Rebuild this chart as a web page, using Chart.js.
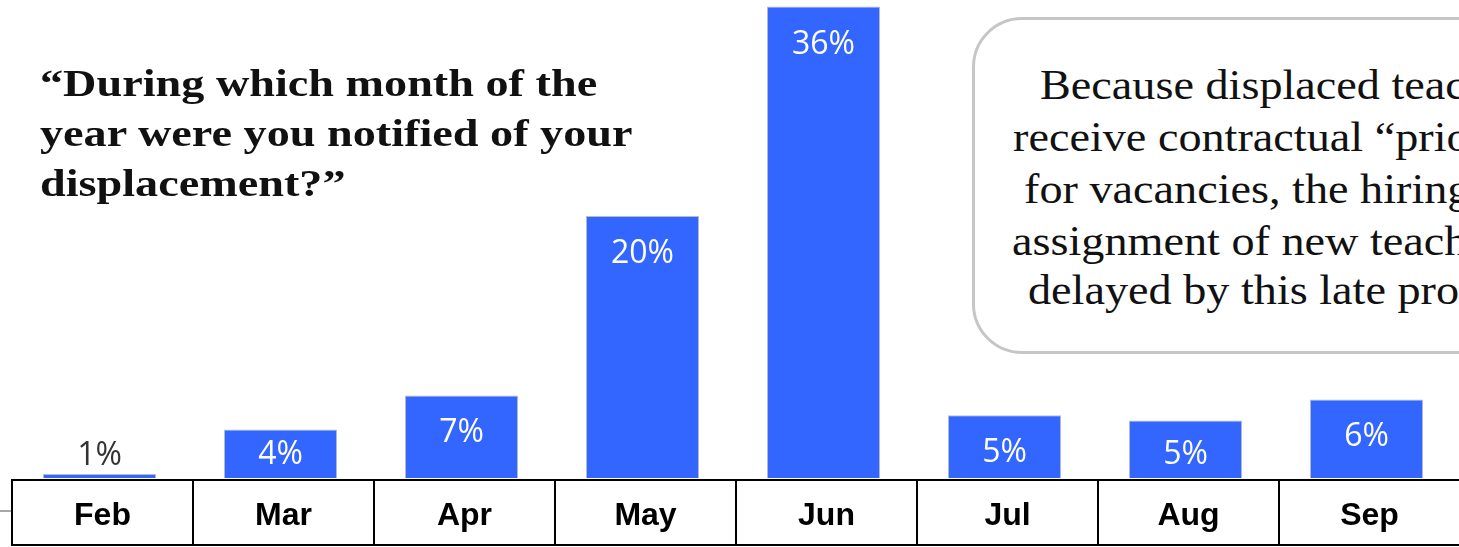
<!DOCTYPE html>
<html>
<head>
<meta charset="utf-8">
<script src="https://cdn.jsdelivr.net/npm/chart.js@4.4.1/dist/chart.umd.min.js"></script>
<style>
    body { margin: 0; width: 1459px; height: 547px; overflow: hidden; position: relative; background: #fff; }
    #myChart { position: absolute; left: 0; top: 0; }
    .title { position: absolute; left: 40px; top: 59px; font: bold 37px "Liberation Serif", serif; line-height: 50px; color: #111; white-space: nowrap; transform-origin: 0 0; }
    .callout { position: absolute; left: 972px; top: 17px; width: 620px; height: 331px; border: 3px solid #c6c6c6; border-radius: 50px; background: #fff; }
    .line { position: absolute; font: 42px "Liberation Serif", serif; line-height: 52px; color: #111; white-space: nowrap; transform-origin: 0 0; transform: scaleX(1.1); }
</style>
</head>
<body>
<canvas id="myChart" width="1459" height="547"></canvas>
<div class="title" id="title">“During which month of the<br>year were you notified of your<br>displacement?”</div>
<div class="callout"></div>
<div class="line" style="left:1040px; top:59px">Because displaced teachers</div>
<div class="line" style="left:1013px; top:111px">receive contractual “priority”</div>
<div class="line" style="left:1024px; top:163px">for vacancies, the hiring and</div>
<div class="line" style="left:1012px; top:215px">assignment of new teachers is</div>
<div class="line" style="left:1028px; top:264px">delayed by this late process.</div>
<script>
'use strict';
(function () {

    var months = ['Feb', 'Mar', 'Apr', 'May', 'Jun', 'Jul', 'Aug', 'Sep'];
    // bar heights as drawn in the picture
    var shares = [0.3, 3.7, 6.3, 20, 36, 4.8, 4.4, 6.0];
    // labels as printed on the bars
    var shareLabels = ['1%', '4%', '7%', '20%', '36%', '5%', '5%', '6%'];

    // stretch the bold title to the width of the original serif
    var title = document.getElementById('title');
    title.style.transform = 'scaleX(' + (592 / title.scrollWidth) + ')';

    // value labels, white inside the bar, dark above tiny ones
    var barLabels = {
        id: 'barLabels',
        afterDatasetsDraw: function (chart) {
            var ctx = chart.ctx;
            var meta = chart.getDatasetMeta(0);
            var base = chart.scales.y.getPixelForValue(0);
            ctx.save();
            ctx.font = '32px "Open Sans", sans-serif';
            ctx.textAlign = 'center';
            ctx.textBaseline = 'alphabetic';
            meta.data.forEach(function (bar, i) {
                var y;
                if (base - bar.y < 20) {
                    ctx.fillStyle = '#333';
                    y = bar.y - 9;
                } else {
                    ctx.fillStyle = '#fff';
                    y = Math.min(bar.y + 47, base - 14);
                }
                ctx.fillText(shareLabels[i], bar.x, y);
            });
            ctx.restore();
        }
    };

    // category table under the bars
    var monthTable = {
        id: 'monthTable',
        afterDraw: function (chart) {
            var ctx = chart.ctx;
            var x = chart.scales.x;
            var top = chart.chartArea.bottom + 2;
            var bottom = chart.height - 2;
            var half = (x.getPixelForValue(1) - x.getPixelForValue(0)) / 2;
            var left0 = x.getPixelForValue(0) - half + 3;
            ctx.save();
            ctx.strokeStyle = '#a8a8a8';
            ctx.lineWidth = 2;
            ctx.beginPath();
            ctx.moveTo(0, 511);
            ctx.lineTo(left0, 511);
            ctx.stroke();

            ctx.strokeStyle = '#000';
            ctx.lineWidth = 2;
            ctx.beginPath();
            ctx.moveTo(left0 - 1, top);
            ctx.lineTo(chart.width, top);
            ctx.moveTo(left0 - 1, bottom);
            ctx.lineTo(chart.width, bottom);
            months.forEach(function (m, i) {
                var left = x.getPixelForValue(i) - half + 3;
                ctx.moveTo(left, top);
                ctx.lineTo(left, bottom);
            });
            ctx.stroke();

            ctx.fillStyle = '#000';
            ctx.font = 'bold 32px "Liberation Sans", Arial, sans-serif';
            ctx.textAlign = 'center';
            ctx.textBaseline = 'alphabetic';
            months.forEach(function (m, i) {
                ctx.fillText(m, x.getPixelForValue(i) + 3, bottom - 20);
            });
            ctx.restore();
        }
    };

    var ctx = document.getElementById('myChart');
    var myChart = new Chart(ctx, {
        type: 'bar',
        data: {
            labels: months,
            datasets: [{
                    data: shares,
                    backgroundColor: '#3366ff',
                    borderColor: '#b4bccc',
                    borderWidth: 1,
                    borderSkipped: 'bottom',
                    categoryPercentage: 1,
                    barPercentage: 0.625
                }]
        },
        options: {
            responsive: false,
            animation: false,
            devicePixelRatio: 1,
            layout: {
                padding: {left: 9, right: 2, top: 0, bottom: 69}
            },
            plugins: {
                legend: {display: false},
                tooltip: {enabled: false}
            },
            scales: {
                x: {display: false},
                y: {display: false, min: 0, max: 36.5}
            }
        },
        plugins: [barLabels, monthTable]
    });

})();
</script>
</body>
</html>
